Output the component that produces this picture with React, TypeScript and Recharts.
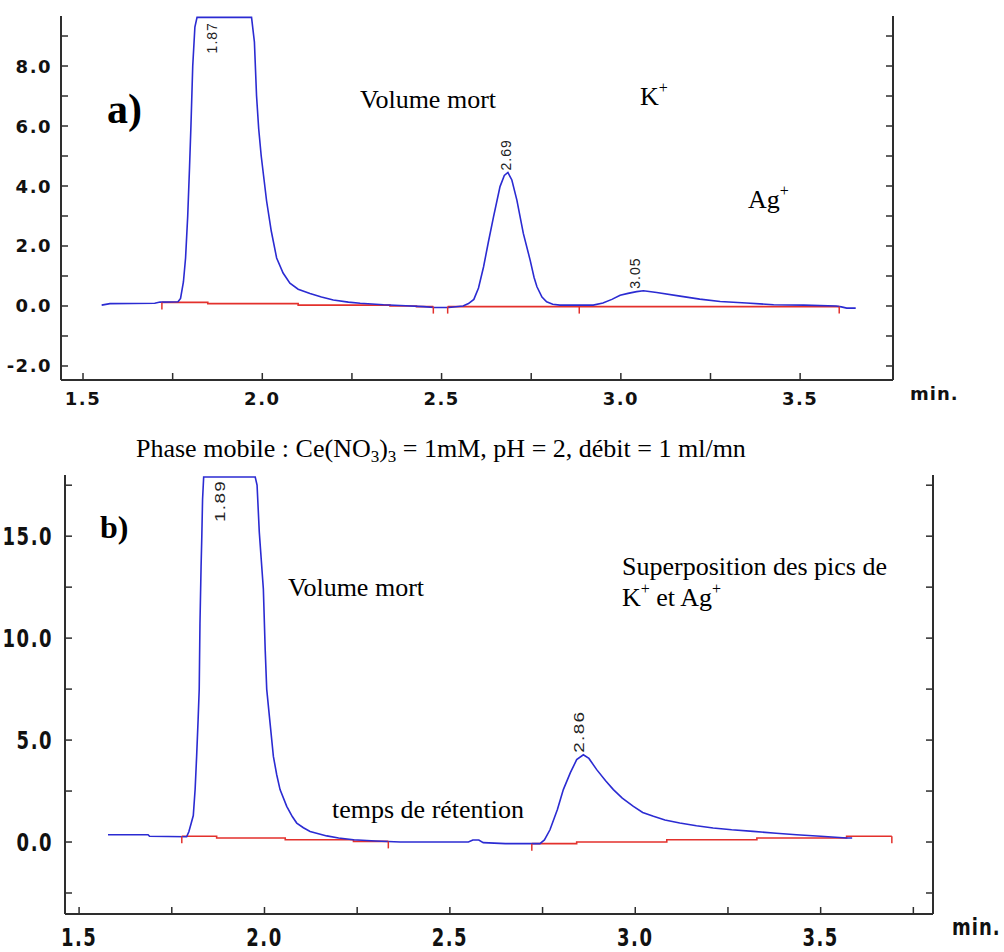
import { Line, LineChart, ReferenceDot, XAxis, YAxis } from "recharts"

const BLUE = "#2b2bd2"
const RED = "#e3312c"
const AXIS = "#2e2e2e"
const TICK_FONT = "'DejaVu Sans', Verdana, sans-serif"
const LABEL_FONT = "'Liberation Sans', Arial, sans-serif"
const SERIF = "'Liberation Serif', 'Times New Roman', serif"

// chromatogram a) : detector signal vs. time (min)
const timeA = [
  1.552, 1.575, 1.7, 1.715, 1.765, 1.772, 1.78, 1.786, 1.792, 1.797, 1.801, 1.806, 1.812, 1.818,
  1.97, 1.978, 1.984, 1.99, 1.997, 2.005, 2.012, 2.025, 2.04, 2.058, 2.077, 2.1, 2.133, 2.165,
  2.198, 2.24, 2.273, 2.338, 2.4, 2.45, 2.48, 2.52, 2.56, 2.575, 2.59, 2.603, 2.617, 2.63, 2.645,
  2.663, 2.675, 2.685, 2.696, 2.71, 2.728, 2.747, 2.758, 2.766, 2.78, 2.793, 2.81, 2.83, 2.923,
  2.95, 2.975, 2.998, 3.02, 3.044, 3.063, 3.1, 3.165, 3.22, 3.277, 3.35, 3.426, 3.51, 3.6, 3.615,
  3.63, 3.655,
]
const signalA = [
  0.03, 0.08, 0.09, 0.13, 0.14, 0.25, 0.8, 1.6, 3.0, 4.6, 6.0, 8.0, 9.3, 9.62,
  9.62, 8.8, 7.0, 5.9, 5.0, 4.2, 3.5, 2.5, 1.6, 1.1, 0.76, 0.56, 0.42, 0.3,
  0.2, 0.13, 0.09, 0.04, 0.01, -0.02, -0.05, -0.05, 0.0, 0.08, 0.22, 0.6, 1.3, 2.1, 2.98,
  3.98, 4.35, 4.45, 4.2, 3.53, 2.42, 1.53, 0.95, 0.64, 0.3, 0.14, 0.06, 0.03, 0.03,
  0.1, 0.22, 0.36, 0.42, 0.48, 0.51, 0.45, 0.33, 0.23, 0.15, 0.1, 0.04, 0.03, 0.0, -0.03,
  -0.07, -0.07,
]
const baseTimeA = [1.72, 1.848, 2.1, 2.356, 2.43, 2.477, 2.497, 2.517, 2.884, 3.609]
const baseLevelA = [0.12, 0.08, 0.03, 0.0, -0.02, -0.02, null, -0.02, -0.02, -0.02]
const baseMarksA = [1.72, 2.477, 2.517, 2.884, 3.609]
const peakTimesA = [1.87, 2.69, 3.05]
const peakHeightsA = [9.62, 4.45, 0.51]
const peakTextA = ["1.87", "2.69", "3.05"]
const xTicksA = [1.5, 1.75, 2, 2.25, 2.5, 2.75, 3, 3.25, 3.5]
const yTicksA = [-2, -1, 0, 1, 2, 3, 4, 5, 6, 7, 8, 9]
const yLabelsA = [-2, 0, 2, 4, 6, 8]

// chromatogram b)
const timeB = [
  1.578, 1.686, 1.69, 1.79, 1.796, 1.802, 1.808, 1.813, 1.817, 1.821, 1.824, 1.826, 1.829, 1.831,
  1.833, 1.836, 1.975, 1.98, 1.986, 1.997, 2.002, 2.006, 2.015, 2.024, 2.033, 2.042, 2.06, 2.075,
  2.087, 2.105, 2.123, 2.168, 2.2, 2.24, 2.3, 2.366, 2.55, 2.562, 2.578, 2.59, 2.65, 2.743, 2.755,
  2.77, 2.79, 2.806, 2.825, 2.842, 2.86, 2.875, 2.896, 2.92, 2.941, 2.965, 2.995, 3.02, 3.049,
  3.08, 3.12, 3.165, 3.21, 3.26, 3.318, 3.38, 3.435, 3.5, 3.57, 3.585,
]
const signalB = [
  0.36, 0.36, 0.28, 0.26, 0.5, 0.9, 1.3, 2.6, 4.2, 6.0, 7.5, 10.7, 13.5, 15.0,
  16.8, 17.9, 17.9, 17.5, 15.2, 12.4, 9.4, 7.5, 5.84, 4.2, 3.3, 2.57, 1.75, 1.25,
  0.93, 0.7, 0.52, 0.3, 0.2, 0.11, 0.05, 0.0, 0.0, 0.1, 0.1, -0.03, -0.08, -0.08, 0.1,
  0.6, 1.6, 2.57, 3.4, 4.04, 4.28, 4.1, 3.55, 3.0, 2.57, 2.15, 1.75, 1.45, 1.26,
  1.08, 0.93, 0.8, 0.69, 0.6, 0.52, 0.43, 0.36, 0.28, 0.2, 0.2,
]
const baseTimeB = [1.777, 1.871, 2.056, 2.24, 2.334, 2.5, 2.721, 2.842, 3.085, 3.328, 3.57, 3.692]
const baseLevelB = [0.28, 0.2, 0.11, 0.03, 0.03, null, -0.08, 0.0, 0.11, 0.2, 0.28, 0.28]
const baseMarksB = [1.777, 2.334, 2.721, 3.692]
const peakTimesB = [1.89, 2.86]
const peakHeightsB = [17.9, 4.28]
const peakTextB = ["1.89", "2.86"]
const xTicksB = [1.5, 1.75, 2, 2.25, 2.5, 2.75, 3, 3.25, 3.5, 3.75]
const yTicksB = [-2.5, 0, 2.5, 5, 7.5, 10, 12.5, 15, 17.5]
const yLabelsB = [0, 5, 10, 15]

type Pt = { t: number; v: number | null }
const zip = (ts: number[], vs: (number | null)[]): Pt[] => ts.map((t, i) => ({ t, v: vs[i] }))

type ChartProps = {
  top: number
  height: number
  marginTop: number
  leftW: number
  rightW: number
  bottomH: number
  xDomain: [number, number]
  yDomain: [number, number]
  xTicks: number[]
  yTicks: number[]
  yLabels: number[]
  stretch: number
  yGap: number
  xDy: number
  trace: Pt[]
  base: Pt[]
  marks: number[]
  peakTimes: number[]
  peakHeights: number[]
  peakText: string[]
  capShift: number
}

const Chromatogram = (p: ChartProps) => {
  const isMajorX = (v: number) => Math.abs(v * 2 - Math.round(v * 2)) < 1e-6
  const cap = p.peakHeights[0]

  const XTick = ({ x, y, payload }: any) => (
    <g>
      <line x1={x} x2={x} y1={y} y2={y - 7} stroke={AXIS} strokeWidth={1.5} />
      {isMajorX(payload.value) && (
        <text
          transform={`translate(${x},${y + p.xDy}) scale(1,${p.stretch})`}
          textAnchor="middle"
          fontFamily={TICK_FONT}
          fontWeight="bold"
          fontSize={18}
          letterSpacing={1.5}
          fill="#111"
        >
          {payload.value.toFixed(1)}
        </text>
      )}
    </g>
  )

  const YTick = ({ x, y, payload }: any) => (
    <g>
      <line x1={x} x2={x + 7} y1={y} y2={y} stroke={AXIS} strokeWidth={1.5} />
      {p.yLabels.includes(payload.value) && (
        <text
          transform={`translate(${x - p.yGap},${y}) scale(1,${p.stretch})`}
          textAnchor="end"
          dominantBaseline="central"
          fontFamily={TICK_FONT}
          fontWeight="bold"
          fontSize={18}
          letterSpacing={1.5}
          fill="#111"
        >
          {payload.value.toFixed(1)}
        </text>
      )}
    </g>
  )

  const RightTick = ({ x, y }: any) => (
    <line x1={x} x2={x - 7} y1={y} y2={y} stroke={AXIS} strokeWidth={1.5} />
  )

  const BaseMark = ({ cx, cy, payload, index }: any) => {
    if (cx == null || cy == null || payload?.v == null || !p.marks.includes(payload.t))
      return <g key={index} />
    return <line key={index} x1={cx} x2={cx} y1={cy} y2={cy + 7} stroke={RED} strokeWidth={1.5} />
  }

  return (
    <div style={{ position: "absolute", left: 0, top: p.top }}>
      <LineChart
        width={1004}
        height={p.height}
        margin={{ top: p.marginTop, right: 0, bottom: 0, left: 0 }}
      >
        <XAxis
          type="number"
          dataKey="t"
          domain={p.xDomain}
          allowDataOverflow
          ticks={p.xTicks}
          interval={0}
          height={p.bottomH}
          tickSize={0}
          tickMargin={0}
          tick={<XTick />}
          axisLine={{ stroke: AXIS, strokeWidth: 2 }}
        />
        <YAxis
          yAxisId="l"
          type="number"
          domain={p.yDomain}
          allowDataOverflow
          ticks={p.yTicks}
          interval={0}
          width={p.leftW}
          tickSize={0}
          tickMargin={0}
          tick={<YTick />}
          axisLine={{ stroke: AXIS, strokeWidth: 2 }}
        />
        <YAxis
          yAxisId="r"
          orientation="right"
          type="number"
          domain={p.yDomain}
          allowDataOverflow
          ticks={p.yTicks}
          interval={0}
          width={p.rightW}
          tickSize={0}
          tickMargin={0}
          tick={<RightTick />}
          axisLine={{ stroke: AXIS, strokeWidth: 2 }}
        />
        <Line
          yAxisId="l"
          data={p.base}
          dataKey="v"
          type="stepAfter"
          stroke={RED}
          strokeWidth={1.6}
          dot={(d: any) => <BaseMark {...d} key={d.index} />}
          activeDot={false}
          isAnimationActive={false}
        />
        <Line
          yAxisId="l"
          data={p.trace}
          dataKey="v"
          type="linear"
          stroke={BLUE}
          strokeWidth={1.6}
          dot={false}
          activeDot={false}
          isAnimationActive={false}
        />
        {p.peakTimes.map((t, i) => (
          <ReferenceDot
            key={t}
            yAxisId="l"
            x={t}
            y={p.peakHeights[i]}
            r={0}
            ifOverflow="visible"
            shape={(s: any) => {
              const start = p.peakHeights[i] === cap ? s.cy + p.capShift : s.cy - 2
              return (
                <text
                  transform={`translate(${s.cx + 1},${start}) scale(1,${p.stretch}) rotate(-90)`}
                  fontFamily={LABEL_FONT}
                  fontSize={14}
                  letterSpacing={1}
                  fill="#222"
                >
                  {p.peakText[i]}
                </text>
              )
            }}
          />
        ))}
      </LineChart>
    </div>
  )
}

export default function App() {
  return (
    <div
      style={{
        position: "absolute",
        left: 0,
        top: 0,
        width: 1004,
        height: 952,
        background: "#fff",
        overflow: "hidden",
      }}
    >
      <Chromatogram
        top={0}
        height={420}
        marginTop={16}
        leftW={61}
        rightW={111}
        bottomH={40}
        xDomain={[1.4386, 3.759]}
        yDomain={[-2.467, 9.667]}
        xTicks={xTicksA}
        yTicks={yTicksA}
        yLabels={yLabelsA}
        stretch={1}
        yGap={9}
        xDy={25}
        trace={zip(timeA, signalA)}
        base={zip(baseTimeA, baseLevelA)}
        marks={baseMarksA}
        peakTimes={peakTimesA}
        peakHeights={peakHeightsA}
        peakText={peakTextA}
        capShift={36}
      />
      <Chromatogram
        top={420}
        height={532}
        marginTop={55}
        leftW={65}
        rightW={71}
        bottomH={38}
        xDomain={[1.462, 3.803]}
        yDomain={[-3.53, 18.0]}
        xTicks={xTicksB}
        yTicks={yTicksB}
        yLabels={yLabelsB}
        stretch={1.35}
        yGap={12}
        xDy={32}
        trace={zip(timeB, signalB)}
        base={zip(baseTimeB, baseLevelB)}
        marks={baseMarksB}
        peakTimes={peakTimesB}
        peakHeights={peakHeightsB}
        peakText={peakTextB}
        capShift={45}
      />
      <svg
        width={1004}
        height={952}
        style={{ position: "absolute", left: 0, top: 0, pointerEvents: "none" }}
      >
        <g fontFamily={SERIF} fontSize={26} fill="#000">
          <text x={107} y={123} fontSize={42} fontWeight="bold">
            a)
          </text>
          <text x={360} y={108}>Volume mort</text>
          <text x={640} y={105}>
            K
            <tspan fontSize={16} dy={-12}>+</tspan>
          </text>
          <text x={748} y={208}>
            Ag
            <tspan fontSize={16} dy={-12}>+</tspan>
          </text>
          <text x={136} y={457}>
            Phase mobile : Ce(NO
            <tspan fontSize={17} dy={5}>3</tspan>
            <tspan dy={-5}>)</tspan>
            <tspan fontSize={17} dy={5}>3</tspan>
            <tspan dy={-5}>{" = 1mM, pH = 2, débit = 1 ml/mn"}</tspan>
          </text>
          <text x={100} y={538} fontSize={32} fontWeight="bold">
            b)
          </text>
          <text x={288} y={596}>Volume mort</text>
          <text x={332} y={818}>temps de rétention</text>
          <text x={622} y={575}>Superposition des pics de</text>
          <text x={622} y={606}>
            K
            <tspan fontSize={16} dy={-12}>+</tspan>
            <tspan dy={12}>{" et Ag"}</tspan>
            <tspan fontSize={16} dy={-12}>+</tspan>
          </text>
        </g>
        <g fontFamily={TICK_FONT} fontWeight="bold" fontSize={18} letterSpacing={1} fill="#111">
          <text x={910} y={400}>min.</text>
          <text transform="translate(952,935) scale(1,1.3)">min.</text>
        </g>
      </svg>
    </div>
  )
}
